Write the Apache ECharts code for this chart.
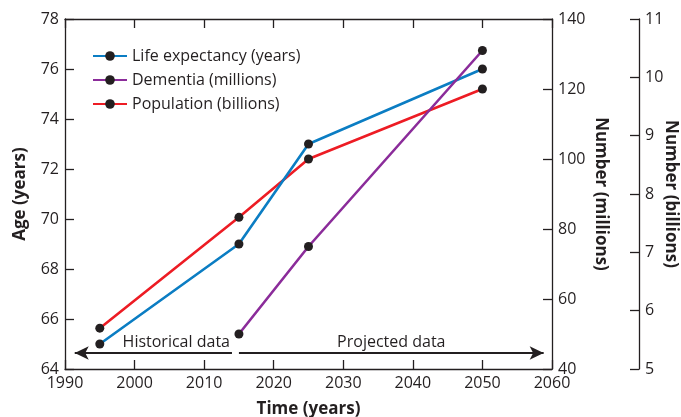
<!DOCTYPE html>
<html><head><meta charset="utf-8">
<script src="https://cdn.jsdelivr.net/npm/echarts@6/dist/echarts.min.js"></script>
<style>html,body{margin:0;padding:0;background:#fff}#c{width:681px;height:417px}</style>
</head><body><div id="c"></div>
<script>
const years = [1995, 2015, 2025, 2050];
const lifeExpectancy = [65.0, 69.0, 73.0, 76.0];
const dementiaYears = [2015, 2025, 2050];
const dementia = [50, 75, 131];
const population = [5.7, 7.6, 8.6, 9.8];
const xTicks = [1990, 2000, 2010, 2020, 2030, 2040, 2050, 2060];
const ageTicks = [64, 78, 2];
const millionsTicks = [40, 140, 20];
const billionsTicks = [5, 11, 1];
const historicalSpan = [1991.4, 2014.0];
const projectedSpan = [2015.0, 2058.8];
const arrowLevel = 64.64;

const ink = '#231f20';
const font = 'Open Sans';
const chart = echarts.init(document.getElementById('c'));
const pair = (xs, ys) => xs.map((x, i) => [x, ys[i]]);
const yAx = (t, extra) => Object.assign({
  type: 'value', min: t[0], max: t[1], interval: t[2],
  axisLine: {show: true, lineStyle: {color: ink, width: 1.3}},
  axisTick: {show: true, inside: true, length: 9, lineStyle: {color: ink, width: 1.3}},
  axisLabel: {color: ink, fontFamily: font, fontSize: 16, margin: 6},
  splitLine: {show: false},
  nameLocation: 'middle', nameMoveOverlap: false,
  nameTextStyle: {color: ink, fontFamily: font, fontSize: 17, fontWeight: 'bold'}
}, extra);

const lineSeries = (name, data, color, yIdx, z) => ({
  name, type: 'line', data, yAxisIndex: yIdx, z,
  symbol: 'circle', symbolSize: 9, showSymbol: true,
  lineStyle: {color, width: 2.6},
  itemStyle: {color: ink},
  animation: false
});

const le = lineSeries('Life expectancy (years)', pair(years, lifeExpectancy), '#0b7dc3', 0, 3);
le.markLine = {
  silent: true, animation: false,
  lineStyle: {color: ink, width: 2, type: 'solid'},
  symbolSize: [10, 14],
  label: {color: ink, fontFamily: font, fontSize: 16},
  data: [
    [{coord: [historicalSpan[0], arrowLevel], symbol: 'arrow', label: {formatter: 'Historical data', position: 'insideEndTop', distance: [2, 3]}},
     {coord: [historicalSpan[1], arrowLevel], symbol: 'none'}],
    [{coord: [projectedSpan[0], arrowLevel], symbol: 'none', label: {formatter: 'Projected data', position: 'middle', distance: 3}},
     {coord: [projectedSpan[1], arrowLevel], symbol: 'arrow'}]
  ]
};

chart.setOption({
  animation: false,
  grid: {left: 65, right: 129, top: 19, bottom: 48, containLabel: false, outerBoundsMode: 'none'},
  legend: {
    orient: 'vertical', left: 87, top: 43, itemGap: 8, itemWidth: 34, itemHeight: 12,
    textStyle: {color: ink, fontFamily: font, fontSize: 16},
    data: ['Life expectancy (years)', 'Dementia (millions)', 'Population (billions)']
  },
  xAxis: [{
    type: 'value', min: xTicks[0], max: xTicks[xTicks.length - 1], interval: 10,
    name: 'Time (years)', nameLocation: 'middle', nameGap: 32,
    nameTextStyle: {color: ink, fontFamily: font, fontSize: 17, fontWeight: 'bold'},
    axisLine: {show: true, lineStyle: {color: ink, width: 1.3}},
    axisTick: {show: true, inside: true, length: 9, lineStyle: {color: ink, width: 1.3}},
    axisLabel: {color: ink, fontFamily: font, fontSize: 16, margin: 6, formatter: v => String(v)},
    splitLine: {show: false}
  }, {
    type: 'value', position: 'top', min: xTicks[0], max: xTicks[xTicks.length - 1], interval: 10,
    axisLine: {show: true, lineStyle: {color: ink, width: 1.3}},
    axisTick: {show: true, inside: true, length: 9, lineStyle: {color: ink, width: 1.3}},
    axisLabel: {show: false}, splitLine: {show: false}
  }],
  yAxis: [
    yAx(ageTicks, {position: 'left', name: 'Age (years)', nameGap: 36}),
    yAx(millionsTicks, {position: 'right', name: 'Number (millions)', nameGap: 40, nameRotate: -90}),
    yAx(billionsTicks, {position: 'right', offset: 87, name: 'Number (billions)', nameGap: 23, nameRotate: -90})
  ],
  series: [
    lineSeries('Population (billions)', pair(years, population), '#ed1c24', 2, 2),
    le,
    lineSeries('Dementia (millions)', pair(dementiaYears, dementia), '#8b2c9a', 1, 4)
  ]
});
</script></body></html>
